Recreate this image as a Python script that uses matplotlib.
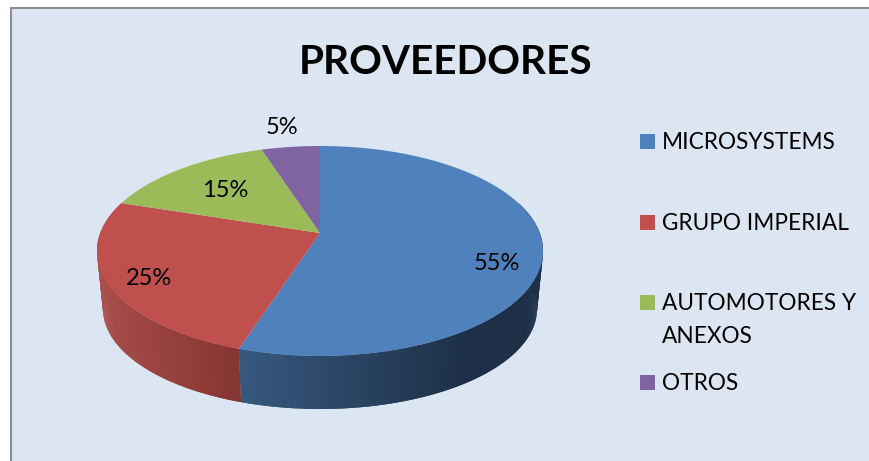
import matplotlib
matplotlib.use("Agg")
import matplotlib.pyplot as plt
from matplotlib.patches import Rectangle
import numpy as np

plt.rcParams['font.family'] = ['Lato', 'DejaVu Sans']

# data
categories = ["MICROSYSTEMS", "GRUPO IMPERIAL", "AUTOMOTORES Y\nANEXOS", "OTROS"]
shares = [55, 25, 15, 5]
colors = ["#4f81bd", "#c0504d", "#9bbb59", "#8064a2"]

# side wall gradient, left to right
wall_left = {0: "#36597f", 1: "#a94e4a"}
wall_right = {0: "#1d3048", 1: "#853532"}

# pie geometry in image pixels
cx, cy, a, b = 320, 251, 223, 105
cy2, a2, b2 = 309, 217, 100
k = 0.171   # perspective: where the slices meet is above the ellipse centre


def project(theta, cy_, a_, b_):
    # theta is clockwise from 12 o'clock, circle -> ellipse with perspective
    u, v = np.sin(theta), np.cos(theta)
    w = 1 + k * v
    x = cx + a_ * np.sqrt(1 - k ** 2) * u / w
    y = cy_ - b_ * (v + k) / w
    return x, y


def lerp_color(c1, c2, t):
    c1 = np.array(matplotlib.colors.to_rgb(c1))
    c2 = np.array(matplotlib.colors.to_rgb(c2))
    return c1 + (c2 - c1) * t


fig = plt.figure(figsize=(8.69, 4.61), dpi=100, facecolor="white")
ax = fig.add_axes([0, 0, 1, 1])
ax.set_xlim(0, 869)
ax.set_ylim(461, 0)
ax.axis("off")

ax.add_patch(Rectangle((10.5, 8.5), 870, 470, facecolor="#dce6f2", edgecolor="#8c8c8c", linewidth=1.5))

edges = np.cumsum([0] + shares) / 100 * 2 * np.pi
apex = (cx, cy - b * k)

# side wall first, thin strips so it can shade; each strip overlaps the next
for i in range(2):
    start = max(edges[i], np.pi * 0.4)
    end = min(edges[i + 1], np.pi * 1.6)
    n = int((end - start) / np.radians(0.5)) + 1
    th = np.linspace(start, end, n + 1)
    x1, y1 = project(th, cy, a, b)
    x2, y2 = project(th, cy2, a2, b2)
    xmin, xmax = x2.min(), x2.max()
    for j in range(n):
        t = ((x2[j] + x2[j + 1]) / 2 - xmin) / (xmax - xmin)
        if i == 0:
            t = min(1, t / 0.75)
        c = lerp_color(wall_left[i], wall_right[i], t)
        e = min(j + 2, n)
        ax.fill([x1[j], x1[e], x2[e], x2[j]], [y1[j], y1[e], y2[e], y2[j]],
                color=c, linewidth=0, zorder=2 + i * 0.1)

# top face
for i, val in enumerate(shares):
    th = np.linspace(edges[i], edges[i + 1], 200)
    x, y = project(th, cy, a, b)
    ax.fill(np.r_[apex[0], x], np.r_[apex[1], y], color=colors[i], linewidth=0, zorder=3)

# percent labels
label_pos = [(497, 263), (149, 278), (225.5, 190), (282, 127)]
for val, (lx, ly) in zip(shares, label_pos):
    ax.text(lx, ly, "%d%%" % val, fontsize=17, color="black", ha="center", va="center", zorder=4)

ax.text(446, 63, "PROVEEDORES", fontsize=29.2, fontweight="bold", color="black",
        ha="center", va="center")

# legend
legend_y = [141, 222, 302, 382]
for name, col, ly in zip(categories, colors, legend_y):
    ax.add_patch(Rectangle((640, ly - 7.5), 15, 15, facecolor=col, edgecolor="none"))
    ax.text(662, ly - 9, name, fontsize=16.3, color="black", ha="left", va="top", linespacing=1.7)

fig.savefig("out.png", dpi=100)
